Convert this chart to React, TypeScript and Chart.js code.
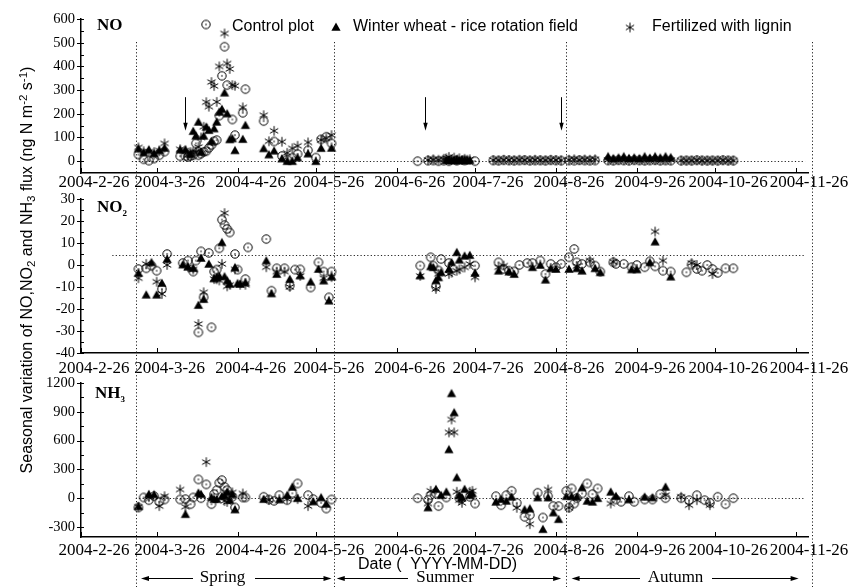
import React, { useEffect, useRef } from "react";
import { Chart, registerables } from "chart.js";

Chart.register(...registerables);

const SERIF = '"Liberation Serif", "Times New Roman", Times, serif';
const SANS = '"Liberation Sans", Arial, Helvetica, sans-serif';

// ---------- time axis (days after 2004-02-26) ----------
const monthTickDates = ["02-26", "03-26", "04-26", "05-26", "06-26", "07-26", "08-26", "09-26", "10-26", "11-26"];
const monthTickLabels = ["2004-2-26", "2004-3-26", "2004-4-26", "2004-5-26", "2004-6-26", "2004-7-26", "2004-8-26", "2004-9-26", "2004-10-26", "2004-11-26"];
const X_END = 278.6;
const seasonBoundaryDates = ["03-18", "06-02", "08-30", "12-02"];
const seasonNames = ["Spring", "Summer", "Autumn"];
const seasonArrowDates = [["03-20", "06-01"], ["06-03", "08-28"], ["09-01", "11-27"]];
const fertilizerArrowDates = ["04-06", "07-07", "08-28"];
const fertilizerArrowRange = [270, 128];

// ---------- NO flux ----------
const noDates = [
  "03-19", "03-21", "03-23", "03-25", "03-27", "03-29",
  "04-04", "04-06", "04-07", "04-08", "04-09", "04-10", "04-11", "04-12", "04-13", "04-14", "04-15", "04-16",
  "04-17", "04-18", "04-19", "04-20", "04-21", "04-22", "04-23", "04-24", "04-25", "04-28", "04-29",
  "05-06", "05-08", "05-10", "05-13", "05-15", "05-17", "05-19", "05-23", "05-26", "05-28", "05-30", "06-01",
  "07-04", "07-08", "07-10", "07-12", "07-14", "07-15", "07-16", "07-17", "07-18", "07-19", "07-20", "07-21",
  "07-22", "07-23", "07-24", "07-26",
  "08-02", "08-04", "08-06", "08-08", "08-10", "08-12", "08-14", "08-16", "08-18", "08-20", "08-22", "08-24", "08-26", "08-28",
  "08-31", "09-02", "09-04", "09-06", "09-08", "09-10",
  "09-15", "09-17", "09-19", "09-21", "09-23", "09-25", "09-27", "09-29", "10-01", "10-03", "10-05", "10-07", "10-09",
  "10-13", "10-15", "10-17", "10-19", "10-21", "10-23", "10-25", "10-27", "10-29", "10-31", "11-02",
];
const noControl = [
  28, 8, 2, 11, 25, 40,
  21, 21, 18, 22, 25, 75, 25, 32, 39, 42, 56, 68, 84, 89, 192, 360, 483, 321, null, 176, 110, 204, 304,
  169, null, 83, 22, 7, 15, 30, 46, 15, 92, 103, 75,
  0, 2, 3, 0, 2, null, 0, null, null, 2, null, null, 3, null, null, 0,
  3, 2, 4, 3, 2, 3, 4, 2, 3, 3, 2, 4, 3, 2,
  3, 2, 4, 3, 2, 3,
  3, 2, 4, 3, 2, 4, 3, 2, 3, 4, 2, 3, 2,
  2, 3, 2, 4, 3, 2, 3, 2, 4, 3, 2,
];
const noWheat = [
  53, 37, 49, 32, 46, 56,
  49, 49, null, 30, 127, 107, 166, 39, 107, 145, 131, 84, 138, 166, 208, 220, 289, 201, 92, 96, 46, 93, 152,
  54, 28, 44, 11, 0, 0, 15, 32, 0, 55, null, 56,
  null, null, null, null, null, 4, 5, 3, 4, 5, 3, 4, 5, 3, 4, null,
  null, null, null, null, null, null, null, null, null, null, null, null, null, null,
  null, null, null, null, null, null,
  20, 12, 15, 20, 13, 15, 12, 20, 14, 20, 15, 20, 16,
  null, null, null, null, null, null, null, null, null, null, null,
];
const noLignin = [
  58, 42, 40, 38, 45, 75,
  50, 45, 25, 38, 40, 40, 60, 100, 145, 249, 230, 334, 317, 250, 400, null, 539, 412, 389, 321, 318, 227, null,
  194, 84, 128, 82, 35, 54, 65, 79, null, 89, 96, 110,
  null, 5, 8, 6, 10, 12, 18, 8, 15, 6, 12, 5, 10, 6, 8, null,
  5, 4, 6, 5, 4, 6, 5, 4, 6, 5, 4, 6, 5, 4,
  6, 8, 5, 7, 6, 8,
  5, 4, 6, 5, 4, 6, 5, 4, 6, 5, 4, 6, 5,
  3, 2, 3, 4, 2, 3, 2, 3, 4, 2, 3,
];

// ---------- NO2 flux ----------
const no2Dates = [
  "03-19", "03-22", "03-24", "03-26", "03-28", "03-30",
  "04-05", "04-07", "04-09", "04-10", "04-11", "04-12", "04-13", "04-15", "04-16", "04-17", "04-18", "04-19",
  "04-20", "04-21", "04-22", "04-23", "04-25", "04-26", "04-27", "04-29", "04-30",
  "05-07", "05-09", "05-11", "05-14", "05-16", "05-18", "05-20", "05-24", "05-27", "05-29", "05-31", "06-01",
  "07-05", "07-09", "07-10", "07-11", "07-12", "07-13", "07-16", "07-17", "07-19", "07-20", "07-22", "07-24", "07-26",
  "08-04", "08-06", "08-08", "08-10", "08-12", "08-15", "08-17", "08-20", "08-22", "08-24", "08-26", "08-28",
  "08-31", "09-02", "09-03", "09-05", "09-08", "09-10", "09-12",
  "09-17", "09-18", "09-21", "09-24", "09-26", "09-29", "10-01", "10-03", "10-06", "10-09",
  "10-15", "10-17", "10-19", "10-21", "10-23", "10-25", "10-27", "10-30", "11-02",
];
const no2Control = [
  -1.8, -1.5, -0.3, -2.6, -10.9, 5,
  0.9, 2, -3, 2, -30.6, 6.2, -14.7, 5.5, -28.3, -3, -2.1, 7.6, 20.6, 18.2, 16.4, 14.8, 5, -2.1, null, -6.4, 8,
  11.8, -11.7, -1.5, -1.5, -9.4, -2.1, -2, -10.2, 1.2, -3, -14.7, -3,
  -0.3, 3.5, -0.3, -9.7, -2.5, 2.7, 0.9, null, null, null, null, null, -0.3,
  1.2, -1.8, -2.6, -2.9, 0, 0.9, 0.9, 2, -4.1, 0.5, -1, 0.5,
  3.5, 7.3, 1.2, 0.5, 1.2, -0.3, -3,
  1.2, 0.5, 0.5, -1, 0, -1, 1.7, -0.6, -2.6, -3,
  -3.3, 0.2, -1.8, -2.6, 0, -1.8, -3.6, -1.5, -1.5,
];
const no2Wheat = [
  -3.6, -13.5, 1.2, -13.5, -8.2, 2.7,
  0.2, -0.8, -1.4, null, -18.2, 3.2, -15.5, 0.5, null, -6.1, -5.5, -5, 10.3, -5.2, -7.1, -8.6, -1.1, -8.3, -8.6, -7.9, null,
  2, -12.9, -4.1, null, -6.4, null, -4.8, -7.6, -1.8, -7.1, -16.2, -5.3,
  -4.8, -0.6, -1, -7, -5.6, -3.3, -1.8, 1.2, 5.8, 2.4, 4.2, 4.5, -3.6,
  -2.6, null, -3, -4.1, null, null, -1, 0, -6.7, -1.5, -1.8, null,
  -1.8, null, -1.5, -2.6, null, -1.5, -3.3,
  null, null, null, -2, -2, null, 1.2, 10.6, null, -5.3,
  null, null, null, null, null, null, null, null, null,
];
const no2Lignin = [
  -6, 0.5, null, -7.6, -13.2, 0,
  null, -1, -2, null, -26.8, null, -12.4, null, null, -6.4, -6.5, -7, 0.5, 23.6, -9.7, -9, -2, null, -9, -9, null,
  -1, null, -3, -3, -10, null, -5, null, null, -6, null, -5.5,
  -5, null, null, -10.9, -4, null, -4.1, -3.5, -2.6, -2, -1.1, 0.5, -5.6,
  -1, -0.3, null, null, null, null, null, null, null, null, null, null,
  null, null, -0.5, null, 2, null, null,
  1.5, null, null, null, null, null, null, 15.2, 2, null,
  null, 0.9, 0, null, null, -4.1, null, null, null,
];

// ---------- NH3 flux ----------
const nh3Dates = [
  "03-19", "03-21", "03-23", "03-25", "03-27", "03-29",
  "04-04", "04-06", "04-08", "04-09", "04-11", "04-12", "04-14", "04-16", "04-17", "04-18", "04-19", "04-20",
  "04-21", "04-22", "04-23", "04-24", "04-25",
  "04-28", "04-29", "05-06", "05-08", "05-10", "05-12", "05-15", "05-17", "05-19", "05-23", "05-25", "05-28", "05-30", "06-01",
  "07-04", "07-08", "07-09", "07-11", "07-12", "07-13", "07-15", "07-16", "07-17", "07-18", "07-19", "07-20",
  "07-21", "07-22", "07-24", "07-25", "07-26",
  "08-03", "08-05", "08-07", "08-09", "08-11", "08-14", "08-16", "08-19", "08-21", "08-23", "08-25", "08-27",
  "08-30", "08-31", "09-01", "09-02", "09-03", "09-05", "09-07", "09-09", "09-11",
  "09-16", "09-18", "09-20", "09-23", "09-25", "09-29", "10-02", "10-05", "10-07",
  "10-13", "10-16", "10-19", "10-22", "10-24", "10-27", "10-30", "11-02",
];
const nh3Control = [
  -97, 7, -21, 21, -38, -14,
  -14, -10, -63, 7, 195, 0, 143, -63, 42, 83, 160, 188, 118, 83, 21, 14, -97,
  7, 7, 14, -14, -28, 31, -21, 50, 153, 31, -10, -49, -108, -14,
  0, -17, 31, 49, -83, null, 7, null, null, null, null, 0, null, null, 14, null, -56,
  21, -73, 31, 76, -49, -195, -177, 56, -202, 21, -83, -83,
  76, -97, 101, -56, 0, 49, 153, 42, 101,
  null, -14, -38, 21, -38, -14, -14, 42, 0,
  0, -21, 31, -21, -49, 14, -63, 0,
];
const nh3Wheat = [
  -85, null, 42, 38, null, null,
  null, -167, null, null, 56, 42, null, 10, -10, -10, null, 20, 31, 66, -21, 42, -118,
  null, null, -10, null, null, -14, 31, 118, 0, null, -35, 7, -60, null,
  null, -97, null, 94, null, 31, 66, 508, 1092, 893, 216, 31, 7, 94, 31, 49, null,
  -38, -10, -28, 14, null, -118, -108, 7, -323, 7, -150, -219,
  21, null, 21, null, 14, 111, -28, -38, 0,
  66, 21, null, -14, null, 14, 7, null, 118,
  null, null, null, null, null, null, null, null,
];
const nh3Lignin = [
  -90, null, 10, null, -83, 20,
  90, -90, null, null, null, null, 376, null, null, null, null, null, -30, -40, null, 60, null,
  49, null, null, -20, null, null, -10, null, -10, -83, null, null, null, null,
  null, -56, 76, null, null, null, null, 685, 820, 685, 66, -21, -49, null, 66, 76, null,
  null, null, null, null, -101, null, -271, null, null, 90, null, null,
  null, -100, null, null, null, null, null, null, null,
  -56, null, null, null, null, null, null, null, 31,
  14, -73, -21, null, -73, null, null, null,
];

// ---------- helpers ----------
const DAY0 = Date.UTC(2004, 1, 26);
function dayOf(md: string): number {
  const [m, d] = md.split("-").map(Number);
  return (Date.UTC(2004, m - 1, d) - DAY0) / 86400000;
}
const tickDays = monthTickDates.map(dayOf);

function toPoints(dates: string[], values: (number | null)[]) {
  const out: { x: number; y: number }[] = [];
  dates.forEach((d, i) => {
    const v = values[i];
    if (v !== null && v !== undefined) out.push({ x: dayOf(d), y: v });
  });
  return out;
}

function makeMarker(kind: "circle" | "triangle" | "asterisk"): HTMLCanvasElement {
  const c = document.createElement("canvas");
  c.width = 12;
  c.height = 12;
  const g = c.getContext("2d")!;
  g.strokeStyle = "#000";
  g.fillStyle = "#000";
  if (kind === "circle") {
    g.lineWidth = 1;
    g.beginPath();
    g.arc(6, 6, 4.2, 0, Math.PI * 2);
    g.stroke();
    g.beginPath();
    g.arc(6, 6, 0.8, 0, Math.PI * 2);
    g.fill();
  } else if (kind === "triangle") {
    g.beginPath();
    g.moveTo(6, 1.6);
    g.lineTo(10.6, 9.8);
    g.lineTo(1.4, 9.8);
    g.closePath();
    g.fill();
  } else {
    g.lineWidth = 1;
    for (const a of [90, 30, -30]) {
      const r = (a * Math.PI) / 180;
      const dx = Math.cos(r) * 4.8;
      const dy = Math.sin(r) * 4.8;
      g.beginPath();
      g.moveTo(6 - dx, 6 - dy);
      g.lineTo(6 + dx, 6 + dy);
      g.stroke();
    }
  }
  return c;
}

function dotted(ctx: CanvasRenderingContext2D, x1: number, y1: number, x2: number, y2: number) {
  ctx.save();
  ctx.strokeStyle = "#222";
  ctx.lineWidth = 1;
  ctx.setLineDash([1.2, 2.2]);
  ctx.beginPath();
  ctx.moveTo(x1, y1);
  ctx.lineTo(x2, y2);
  ctx.stroke();
  ctx.restore();
}

function arrow(ctx: CanvasRenderingContext2D, x1: number, y1: number, x2: number, y2: number, head: number, half: number) {
  const a = Math.atan2(y2 - y1, x2 - x1);
  const cos = Math.cos(a);
  const sin = Math.sin(a);
  ctx.beginPath();
  ctx.moveTo(x1, y1);
  ctx.lineTo(x2 - cos * head * 0.7, y2 - sin * head * 0.7);
  ctx.stroke();
  ctx.beginPath();
  ctx.moveTo(x2, y2);
  ctx.lineTo(x2 - cos * head + sin * half, y2 - sin * head - cos * half);
  ctx.lineTo(x2 - cos * head - sin * half, y2 - sin * head + cos * half);
  ctx.closePath();
  ctx.fill();
}

type Markers = { circle: HTMLCanvasElement; triangle: HTMLCanvasElement; asterisk: HTMLCanvasElement };

type Panel = {
  dates: string[];
  control: (number | null)[];
  wheat: (number | null)[];
  lignin: (number | null)[];
  yMin: number;
  yMax: number;
  yLabels: number[];
  minorStep: number;
  majorStep: number;
  top: number;
  bottom: number;
  xLabelPad: number;
  ref: { value: number; from: number; to: number };
  extra?: (chart: any, markers: Markers) => void;
};

const H = 587;

function panelConfig(p: Panel, markers: Markers): any {
  const decor = {
    id: "panelDecor",
    beforeDatasetsDraw(chart: any) {
      const { ctx } = chart;
      const x = chart.scales.x;
      const y = chart.scales.y;
      const py = Math.round(y.getPixelForValue(p.ref.value)) + 0.5;
      dotted(ctx, x.getPixelForValue(p.ref.from), py, x.getPixelForValue(p.ref.to), py);
    },
    afterDraw(chart: any) {
      const { ctx, chartArea } = chart;
      const x = chart.scales.x;
      const y = chart.scales.y;
      ctx.save();
      ctx.strokeStyle = "#000";
      ctx.lineWidth = 1;
      const lo = p.yLabels[0];
      const hi = p.yLabels[p.yLabels.length - 1];
      for (let v = lo; v <= hi + 1e-9; v += p.minorStep) {
        const py = Math.round(y.getPixelForValue(v)) + 0.5;
        const r = v / p.majorStep;
        const major = Math.abs(r - Math.round(r)) < 1e-6;
        ctx.beginPath();
        ctx.moveTo(chartArea.left - (major ? 4 : 0), py);
        ctx.lineTo(chartArea.left + 3, py);
        ctx.stroke();
      }
      for (const d of tickDays) {
        const px = Math.round(x.getPixelForValue(d)) + 0.5;
        ctx.beginPath();
        ctx.moveTo(px, chartArea.bottom);
        ctx.lineTo(px, chartArea.bottom - 5);
        ctx.stroke();
      }
      ctx.restore();
      if (p.extra) p.extra(chart, markers);
    },
  };

  return {
    type: "scatter",
    data: {
      datasets: [
        { label: "Control plot", data: toPoints(p.dates, p.control), pointStyle: markers.circle, pointRadius: 5 },
        { label: "Winter wheat - rice rotation field", data: toPoints(p.dates, p.wheat), pointStyle: markers.triangle, pointRadius: 5 },
        { label: "Fertilized with lignin", data: toPoints(p.dates, p.lignin), pointStyle: markers.asterisk, pointRadius: 5 },
      ],
    },
    options: {
      animation: false,
      responsive: false,
      devicePixelRatio: 1,
      events: [],
      layout: { padding: { left: 0, right: 43, top: p.top, bottom: H - p.bottom - 20 } },
      plugins: { legend: { display: false }, tooltip: { enabled: false } },
      scales: {
        x: {
          type: "linear",
          min: 0,
          max: X_END,
          grid: { display: false, drawTicks: false },
          border: { display: true, color: "#000", width: 1.5 },
          afterBuildTicks: (s: any) => {
            s.ticks = tickDays.map((v) => ({ value: v }));
          },
          afterFit: (s: any) => {
            s.height = 20;
          },
          ticks: {
            autoSkip: false,
            maxRotation: 0,
            minRotation: 0,
            labelOffset: 13,
            padding: p.xLabelPad,
            color: "#000",
            font: { family: SERIF, size: 17, lineHeight: 1 },
            callback: (_v: any, i: number) => monthTickLabels[i],
          },
        },
        y: {
          type: "linear",
          min: p.yMin,
          max: p.yMax,
          grid: { display: false, drawTicks: false },
          border: { display: true, color: "#000", width: 1.5 },
          afterBuildTicks: (s: any) => {
            s.ticks = p.yLabels.map((v) => ({ value: v }));
          },
          afterFit: (s: any) => {
            s.width = 81;
          },
          ticks: {
            padding: 6,
            color: "#000",
            font: { family: SERIF, size: 14.5 },
            callback: (v: any) => String(v),
          },
        },
      },
    },
    plugins: [decor],
  };
}

const seasonRow = [
  { center: 222.5, gapLeft: 193, gapRight: 255 },
  { center: 445, gapLeft: 408, gapRight: 490 },
  { center: 675.5, gapLeft: 640, gapRight: 712 },
];

function range(a: number, b: number, step: number) {
  const out: number[] = [];
  for (let v = a; v <= b + 1e-9; v += step) out.push(v);
  return out;
}

export default function App() {
  const c1 = useRef<HTMLCanvasElement>(null);
  const c2 = useRef<HTMLCanvasElement>(null);
  const c3 = useRef<HTMLCanvasElement>(null);

  useEffect(() => {
    const markers: Markers = {
      circle: makeMarker("circle"),
      triangle: makeMarker("triangle"),
      asterisk: makeMarker("asterisk"),
    };

    const noPanel: Panel = {
      dates: noDates, control: noControl, wheat: noWheat, lignin: noLignin,
      yMin: -50, yMax: 600, yLabels: range(0, 600, 100), minorStep: 50, majorStep: 100,
      top: 19, bottom: 173, xLabelPad: 1,
      ref: { value: 0, from: 19.5, to: 277.5 },
      extra: (chart, mk) => {
        const { ctx } = chart;
        const x = chart.scales.x;
        const y = chart.scales.y;
        ctx.save();
        ctx.strokeStyle = "#000";
        ctx.fillStyle = "#000";
        ctx.lineWidth = 1;
        for (const d of fertilizerArrowDates) {
          const px = Math.round(x.getPixelForValue(dayOf(d))) + 0.5;
          arrow(ctx, px, y.getPixelForValue(fertilizerArrowRange[0]), px, y.getPixelForValue(fertilizerArrowRange[1]), 8, 2.2);
        }
        ctx.drawImage(mk.circle, 206 - 6, 24.5 - 6);
        ctx.drawImage(mk.triangle, 336 - 6, 27 - 6);
        ctx.drawImage(mk.asterisk, 630 - 6, 27.5 - 6);
        ctx.restore();
      },
    };
    const no2Panel: Panel = {
      dates: no2Dates, control: no2Control, wheat: no2Wheat, lignin: no2Lignin,
      yMin: -40, yMax: 30, yLabels: range(-40, 30, 10), minorStep: 5, majorStep: 10,
      top: 199, bottom: 353, xLabelPad: 7,
      ref: { value: 4.5, from: 12, to: 277.5 },
    };
    const nh3Panel: Panel = {
      dates: nh3Dates, control: nh3Control, wheat: nh3Wheat, lignin: nh3Lignin,
      yMin: -405, yMax: 1200, yLabels: range(-300, 1200, 300), minorStep: 150, majorStep: 300,
      top: 383, bottom: 537, xLabelPad: 5.2,
      ref: { value: 0, from: 21, to: 277.5 },
      extra: (chart) => {
        const { ctx } = chart;
        const x = chart.scales.x;
        // season boundaries run through all three panels
        for (const d of seasonBoundaryDates) {
          const px = Math.round(x.getPixelForValue(dayOf(d))) + 0.5;
          dotted(ctx, px, 42, px, H);
        }
        ctx.save();
        ctx.strokeStyle = "#000";
        ctx.fillStyle = "#000";
        ctx.lineWidth = 1;
        const ay = 578.5;
        seasonArrowDates.forEach((span, i) => {
          const left = x.getPixelForValue(dayOf(span[0]));
          const right = x.getPixelForValue(dayOf(span[1]));
          arrow(ctx, seasonRow[i].gapLeft, ay, left, ay, 8, 2.5);
          arrow(ctx, seasonRow[i].gapRight, ay, right, ay, 8, 2.5);
        });
        ctx.restore();
      },
    };

    const charts = [
      new Chart(c1.current!, panelConfig(noPanel, markers)),
      new Chart(c2.current!, panelConfig(no2Panel, markers)),
      new Chart(c3.current!, panelConfig(nh3Panel, markers)),
    ];
    return () => charts.forEach((c) => c.destroy());
  }, []);

  const canvasStyle: React.CSSProperties = { position: "absolute", left: 0, top: 0, width: 851, height: H };
  const abs = (extra: React.CSSProperties): React.CSSProperties => ({ position: "absolute", whiteSpace: "nowrap", color: "#000", ...extra });
  const supStyle: React.CSSProperties = { fontSize: "0.72em", position: "relative", top: "-0.45em", verticalAlign: "baseline", lineHeight: 0 };
  const subStyle: React.CSSProperties = { fontSize: "0.72em", position: "relative", top: "0.28em", verticalAlign: "baseline", lineHeight: 0 };
  const panelSub: React.CSSProperties = { fontSize: 9, position: "relative", top: 4, verticalAlign: "baseline", lineHeight: 0 };
  const panelLabel: React.CSSProperties = { fontFamily: SERIF, fontWeight: "bold", fontSize: 17, lineHeight: "17px" };
  const legendText: React.CSSProperties = { fontFamily: SANS, fontSize: 16, lineHeight: "16px" };
  const seasonText: React.CSSProperties = { fontFamily: SERIF, fontSize: 17, lineHeight: "17px", transform: "translateX(-50%)" };

  return (
    <div style={{ position: "absolute", left: 0, top: 0, width: 851, height: H, overflow: "hidden", background: "#fff" }}>
      <canvas ref={c1} width={851} height={H} style={canvasStyle} />
      <canvas ref={c2} width={851} height={H} style={canvasStyle} />
      <canvas ref={c3} width={851} height={H} style={canvasStyle} />

      <div style={abs({ ...panelLabel, left: 97, top: 16.4 })}>NO</div>
      <div style={abs({ ...panelLabel, left: 97, top: 198.1 })}>
        NO<span style={panelSub}>2</span>
      </div>
      <div style={abs({ ...panelLabel, left: 95, top: 384.4 })}>
        NH<span style={panelSub}>3</span>
      </div>

      <div style={abs({ ...legendText, left: 232, top: 17.5 })}>Control plot</div>
      <div style={abs({ ...legendText, left: 353, top: 17.5 })}>Winter wheat - rice rotation field</div>
      <div style={abs({ ...legendText, left: 652, top: 17.5 })}>Fertilized with lignin</div>

      <div
        style={abs({
          fontFamily: SANS,
          fontSize: 16,
          lineHeight: "20px",
          width: 480,
          height: 20,
          left: 26.5 - 240,
          top: 270 - 10,
          textAlign: "center",
          transform: "rotate(-90deg)",
          transformOrigin: "50% 50%",
        })}
      >
        Seasonal variation of NO,NO<span style={subStyle}>2</span> and NH<span style={subStyle}>3</span> flux (ng N m
        <span style={supStyle}>-2</span> s<span style={supStyle}>-1</span>)
      </div>

      <div style={abs({ ...legendText, left: 358, top: 556, whiteSpace: "pre" })}>{"Date (  YYYY-MM-DD)"}</div>

      {seasonNames.map((name, i) => (
        <div key={name} style={abs({ ...seasonText, left: seasonRow[i].center, top: 568.1 })}>
          {name}
        </div>
      ))}
    </div>
  );
}
